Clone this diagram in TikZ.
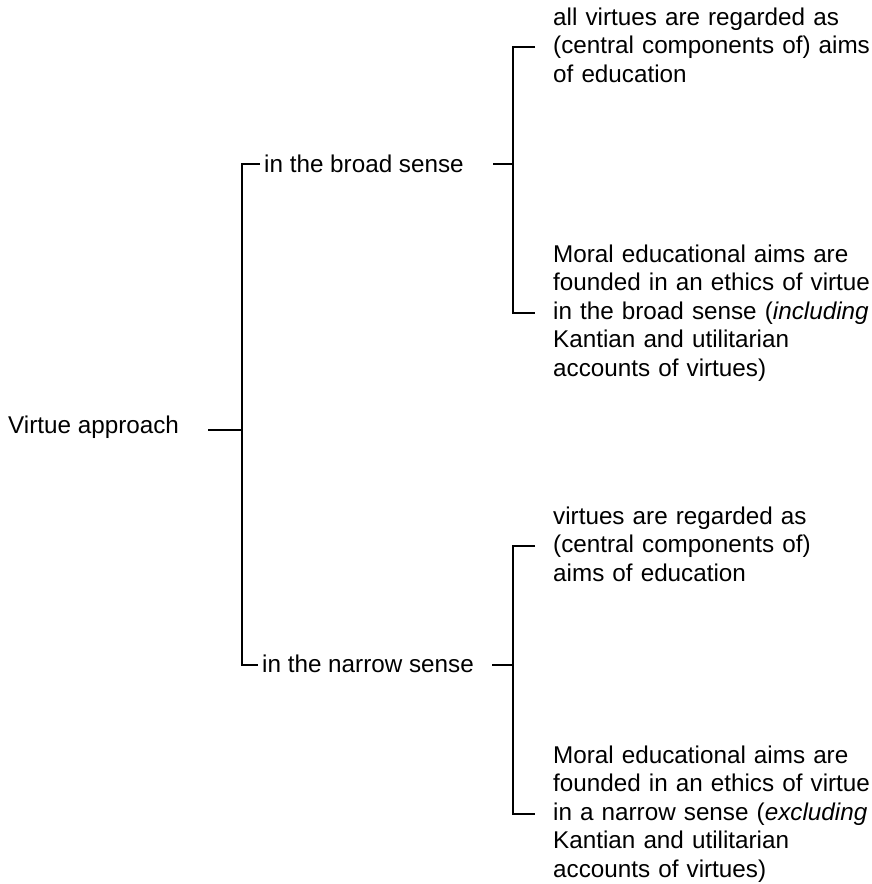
\documentclass[tikz,border=0pt]{standalone}
\usepackage{fontspec}
\setmainfont{Liberation Sans}
\begin{document}
\begin{tikzpicture}[x=1pt, y=-1pt,
        term/.style={font=\fontsize{24.25}{28.5}\selectfont, inner sep=0pt, anchor=base west},
        gloss/.style={term, text width=320pt, align=left},
        brack/.style={line width=2.9pt, black}]
        \useasboundingbox (0,0) rectangle (872,884);

        % Terms
        \node[term] (va) at (8,433) {Virtue approach};
        \node[term] (broad) at (264,172) {in the broad sense};
        \node[term] (narrow) at (262,672) {in the narrow sense};
        % Broad sense
        \node[gloss] (aimsA) at (553,25) {all virtues are regarded as\\(central components of) aims\\of education};
        \node[gloss] (moralA) at (553,262) {Moral educational aims are\\founded in an ethics of virtue\\in the broad sense (\textit{including}\\Kantian and utilitarian\\accounts of virtues)};
        % Narrow sense
        \node[gloss] (aimsB) at (553,524) {virtues are regarded as\\(central components of)\\aims of education};
        \node[gloss] (moralB) at (553,763) {Moral educational aims are\\founded in an ethics of virtue\\in a narrow sense (\textit{excluding}\\Kantian and utilitarian\\accounts of virtues)};

        % Spines and tick heights
        \coordinate (s1) at (242,0);
        \coordinate (s2) at ([xshift=-40pt]aimsA.base west);
        \coordinate (tb) at ([yshift=8pt]broad.base west);
        \coordinate (tn) at ([yshift=7pt]narrow.base west);

        % Main bracket
        \draw[brack] ([xshift=-34pt,yshift=3pt]s1 |- va.base east) -- ([yshift=3pt]s1 |- va.base east);
        \draw[brack] ([xshift=-4pt]tb) -| (s1 |- tn) -- ([xshift=-4pt]tn);

        % Broad bracket
        \draw[brack] ([xshift=-20pt]s2 |- tb) -- (s2 |- tb);
        \draw[brack] ([shift={(-18,22)}]aimsA.base west) -- ([shift={(-40,22)}]aimsA.base west)
            -- ([shift={(-40,51)}]moralA.base west) -- ([shift={(-18,51)}]moralA.base west);

        % Narrow bracket
        \draw[brack] ([xshift=-21pt]s2 |- tn) -- (s2 |- tn);
        \draw[brack] ([shift={(-18,22)}]aimsB.base west) -- ([shift={(-40,22)}]aimsB.base west)
            -- ([shift={(-40,51)}]moralB.base west) -- ([shift={(-18,51)}]moralB.base west);
\end{tikzpicture}
\end{document}
